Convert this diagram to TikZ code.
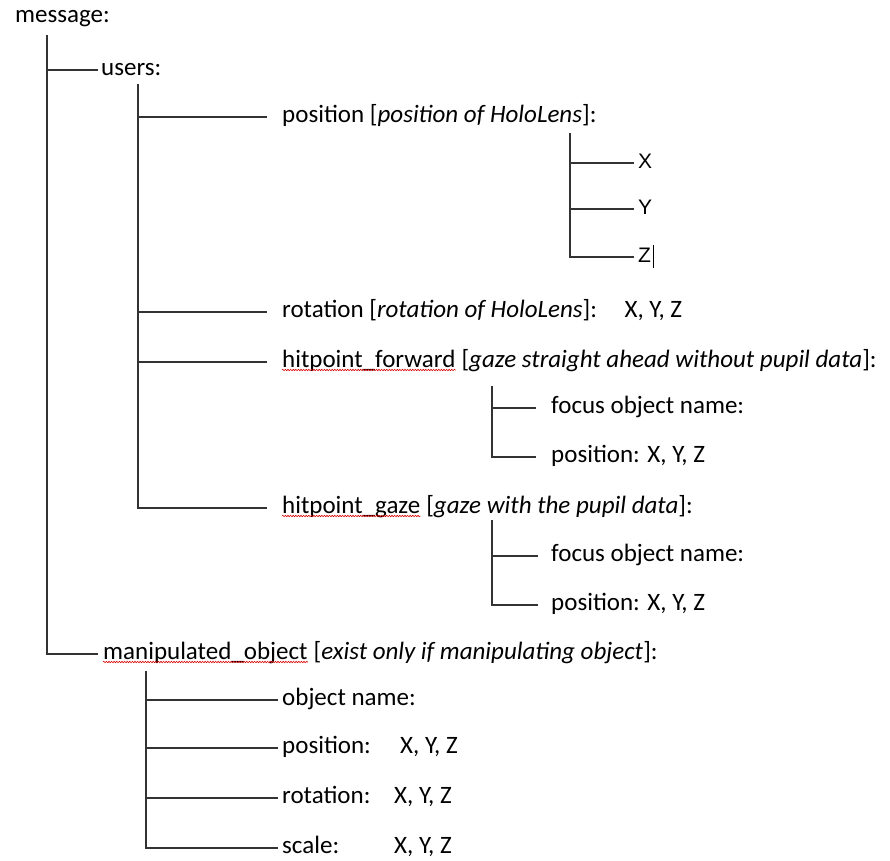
\documentclass[tikz,border=0pt]{standalone}
\usepackage{fontspec}
\setmainfont{Carlito}
\newfontfamily\arialf{Liberation Sans}
\usetikzlibrary{decorations.pathmorphing}
\begin{document}
\begin{tikzpicture}[x=1pt,y=-1pt,
  lbl/.style={anchor=west, inner sep=0pt, font=\fontsize{25}{29}\selectfont, text height=16pt, text depth=6pt},
  xyz/.style={lbl, font=\arialf\fontsize{21}{25}\selectfont},
  br/.style={draw=black!80, line width=1.1pt},
  wavy/.style={draw=red!85!black, line width=0.6pt, decorate, decoration={snake, amplitude=0.7pt, segment length=2.6pt}}
]
\useasboundingbox (0,0) rectangle (890,860);

% level 0
\node[lbl] (msg) at (15,17) {message:};
\coordinate (t1) at (47,35);
\node[lbl] (users) at (101,70) {users:};
\node[lbl] (manw) at (103,654) {manipulated\_object};
\node[lbl] (man) at (manw.east) {\ [\textit{exist only if manipulating object}]:};

% users subtree
\coordinate (t2) at (138,84);
\node[lbl] (pos) at (282,117) {position [\textit{position of HoloLens}]:};
\node[lbl] (rot) at (282,312) {rotation [\textit{rotation of HoloLens}]:\hspace{1.1em}X, Y, Z};
\node[lbl] (hfw) at (282,362) {hitpoint\_forward};
\node[lbl] (hf) at (hfw.east) {\ [\textit{gaze straight ahead without pupil data}]:};
\node[lbl] (hgw) at (282,508) {hitpoint\_gaze};
\node[lbl] (hg) at (hgw.east) {\ [\textit{gaze with the pupil data}]:};

% position subtree
\coordinate (t3) at (570,133);
\node[xyz] (px) at (638,163) {X};
\node[xyz] (py) at (638,209) {Y};
\node[xyz] (pz) at (638,257) {Z};

% hitpoint_forward subtree
\coordinate (t4) at (492,386);
\node[lbl] (f1) at (551,408) {focus object name:};
\node[lbl] (f2) at (551,457) {position: X, Y, Z};

% hitpoint_gaze subtree
\coordinate (t5) at (492,520);
\node[lbl] (g1) at (551,556) {focus object name:};
\node[lbl] (g2) at (551,605) {position: X, Y, Z};

% manipulated_object subtree
\coordinate (t6) at (146,671);
\node[lbl] (m1) at (282,700) {object name:};
\node[lbl] (m2) at (282,748) {\makebox[118pt][l]{position:}X, Y, Z};
\node[lbl] (m3) at (282,798) {\makebox[112pt][l]{rotation:}X, Y, Z};
\node[lbl] (m4) at (282,848) {\makebox[112pt][l]{scale:}X, Y, Z};

% connectors
\draw[br, shorten >=3pt] (t1) |- (users.west);
\draw[br, shorten >=5pt] (t1) |- (manw.west);
\foreach \n in {pos,rot,hfw,hgw} \draw[br, shorten >=15pt] (t2) |- (\n.west);
\foreach \n in {px,py,pz} \draw[br, shorten >=4pt] (t3) |- (\n.west);
\foreach \n in {f1,f2} \draw[br, shorten >=15pt] (t4) |- (\n.west);
\foreach \n in {g1,g2} \draw[br, shorten >=13pt] (t5) |- (\n.west);
\foreach \n in {m1,m2,m3,m4} \draw[br, shorten >=4pt] (t6) |- (\n.west);

% text cursor after Z
\draw[line width=0.9pt] ([xshift=2pt,yshift=-6pt]pz.base east) -- ([xshift=2pt,yshift=17pt]pz.base east);

% spell-check underlines
\foreach \n in {hfw,hgw,manw} \draw[wavy] ([yshift=-3pt]\n.base west) -- ([yshift=-3pt]\n.base east);
\end{tikzpicture}
\end{document}
